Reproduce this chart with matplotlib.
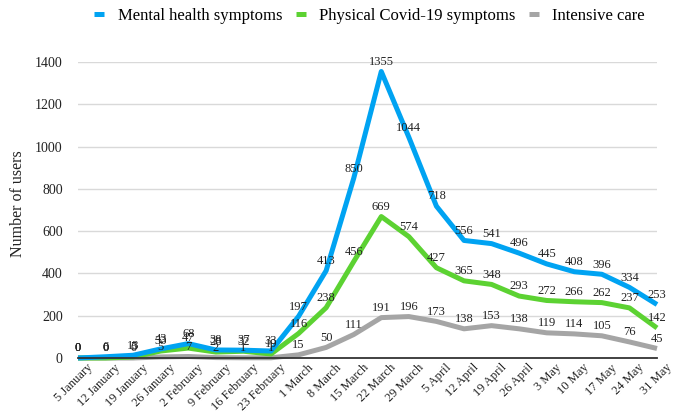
import matplotlib
matplotlib.use("Agg")
import matplotlib.pyplot as plt
import matplotlib.transforms as mtransforms

plt.rcParams['font.family'] = ['Liberation Serif', 'DejaVu Serif']

semanas = ['5 January', '12 January', '19 January', '26 January', '2 February',
           '9 February', '16 February', '23 February', '1 March', '8 March',
           '15 March', '22 March', '29 March', '5 April', '12 April', '19 April',
           '26 April', '3 May', '10 May', '17 May', '24 May', '31 May']

mental = [0, 6, 13, 43, 68, 38, 37, 33, 197, 413, 850, 1355, 1044, 718,
          556, 541, 496, 445, 408, 396, 334, 253]
fisico = [0, 0, 5, 33, 47, 28, 32, 19, 116, 238, 456, 669, 574, 427,
          365, 348, 293, 272, 266, 262, 237, 142]
intensivo = [0, 0, 0, 5, 7, 2, 1, 1, 15, 50, 111, 191, 196, 173,
             138, 153, 138, 119, 114, 105, 76, 45]

series = [
    ('Mental health symptoms', mental, '#00A3F2'),
    ('Physical Covid-19 symptoms', fisico, '#5CD232'),
    ('Intensive care', intensivo, '#A5A5A5'),
]

fig = plt.figure(figsize=(6.75, 4.18), dpi=100)
ax = fig.add_axes([78 / 675, 1 - 358 / 418, 579 / 675, 296 / 418])

x = list(range(len(semanas)))

# linhas primeiro, depois os rótulos por cima
for nome, valores, cor in reversed(series):
    ax.plot(x, valores, color=cor, lw=3.6, label=nome, clip_on=False,
            solid_joinstyle='round', solid_capstyle='butt')

for nome, valores, cor in series:
    for xi, v in zip(x, valores):
        ax.annotate(str(v), (xi, v), xytext=(0, 7), textcoords='offset points',
                    ha='center', va='center', fontsize=9, color='#222222')

ax.set_xlim(0, len(semanas) - 1)
ax.set_ylim(0, 1400)
ax.set_yticks(range(0, 1401, 200))
ax.set_xticks(x)
ax.set_xticklabels([])

# rótulos do eixo x deslocados um pouco à direita, como no original
desloc = mtransforms.ScaledTranslation(13 / 100, -8 / 100, fig.dpi_scale_trans)
trans = ax.get_xaxis_transform() + desloc
for xi, nome in zip(x, semanas):
    ax.text(xi, 0, nome, transform=trans, rotation=45, rotation_mode='anchor',
            ha='right', va='center', fontsize=9, color='#222222')

ax.tick_params(axis='y', length=0, pad=11, labelsize=10, colors='#222222')
ax.tick_params(axis='x', length=0)
ax.grid(axis='y', color='#D9D9D9', lw=1)
ax.set_axisbelow(True)
for s in ['top', 'right', 'left']:
    ax.spines[s].set_visible(False)
ax.spines['bottom'].set_color('#333333')
ax.spines['bottom'].set_linewidth(1.3)

ax.set_ylabel('Number of users', fontsize=11.5, color='#222222')
ax.yaxis.set_label_coords(-52 / 579, 0.52)

handles, labels = ax.get_legend_handles_labels()
ax.legend(handles[::-1], labels[::-1], loc='center',
          bbox_to_anchor=(0.5 + 2 / 579, 1 + 46 / 296),
          ncol=3, frameon=False, fontsize=12, handlelength=0.6,
          handletextpad=0.8, columnspacing=0.8)

fig.savefig('out.png', dpi=100)
